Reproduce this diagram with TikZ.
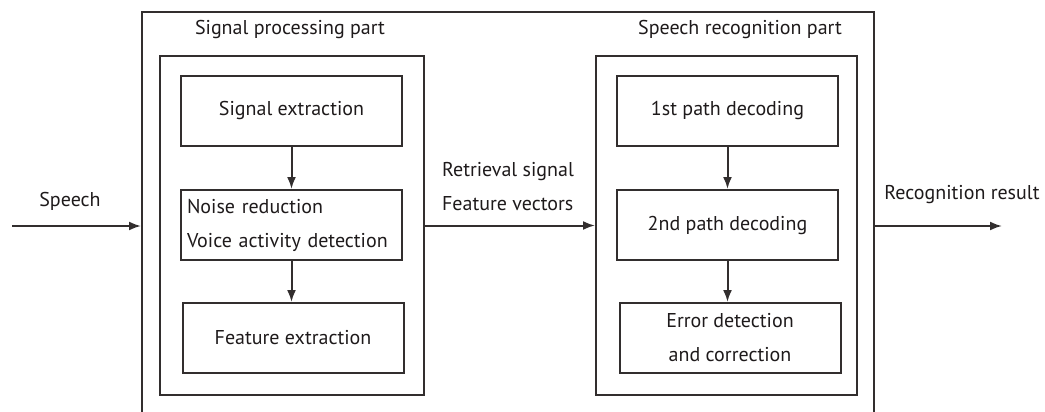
\documentclass[tikz,border=0pt]{standalone}
\usepackage{fontspec}
\setmainfont{PT Sans}
\usepackage{tikz}
\usetikzlibrary{arrows, arrows.meta, positioning, calc}
\definecolor{linegray}{RGB}{50, 46, 46}
\definecolor{darktext}{RGB}{30, 26, 27}

\tikzset{
    stagebox/.style={draw=linegray, line width=2pt, minimum width=221pt, minimum height=70pt,
          align=center, text=darktext, inner sep=4pt},
    partbox/.style={draw=linegray, line width=2pt, minimum height=339pt},
    flow/.style={-{Latex[length=12pt, width=9pt]}, draw=linegray, line width=2pt},
    label/.style={text=darktext, inner sep=0pt}
}

\begin{document}
\begin{tikzpicture}[x=1pt, y=-1pt, font=\fontsize{20}{34}\selectfont]
    \useasboundingbox (0,0) rectangle (1045,412);

    % outer frame, open at the bottom edge
    \node[draw=linegray, line width=2pt, minimum width=732pt, minimum height=440pt,
          anchor=north west] (outer) at (141,11) {};

    % signal processing part
    \node[partbox, minimum width=264pt] (sigpart) at (292,225.5) {};
    \node[label] (sigtitle) at (290,30) {Signal processing part};
    \node[stagebox] (sigext) at (291.5,111) {Signal extraction};
    \node[stagebox, align=left, text width=209pt] (noise) at (291.5,225)
        {Noise reduction\\Voice activity detection};
    \node[stagebox] (featext) at (293,338) {Feature extraction};

    % speech recognition part
    \node[partbox, minimum width=261pt] (recpart) at (726.5,225.5) {};
    \node[label] (rectitle) at (740,30) {Speech recognition part};
    \node[stagebox] (firstpass) at (727.5,111) {1st path decoding};
    \node[stagebox] (secondpass) at (727.5,225) {2nd path decoding};
    \node[stagebox] (errcorr) at (730,338) {Error detection\\and correction};

    % inner flow
    \draw[flow] (sigext) -- (sigext |- noise.north);
    \draw[flow] (noise) -- (noise |- featext.north);
    \draw[flow] (firstpass) -- (firstpass |- secondpass.north);
    \draw[flow] (secondpass) -- (secondpass |- errcorr.north);

    % input, link and output
    \coordinate (speechin) at (12,226);
    \coordinate (resultout) at (1002,226);
    \draw[flow] (speechin) -- (speechin -| outer.west);
    \draw[flow] (sigpart.east) -- (recpart.west);
    \draw[flow] (resultout -| outer.east) -- (resultout);

    \node[label] (speechlbl) at (70,201) {Speech};
    \node[label, align=left] (linklbl) at (508,187) {Retrieval signal\\Feature vectors};
    \node[label] (resultlbl) at (962,195) {Recognition result};
\end{tikzpicture}
\end{document}
